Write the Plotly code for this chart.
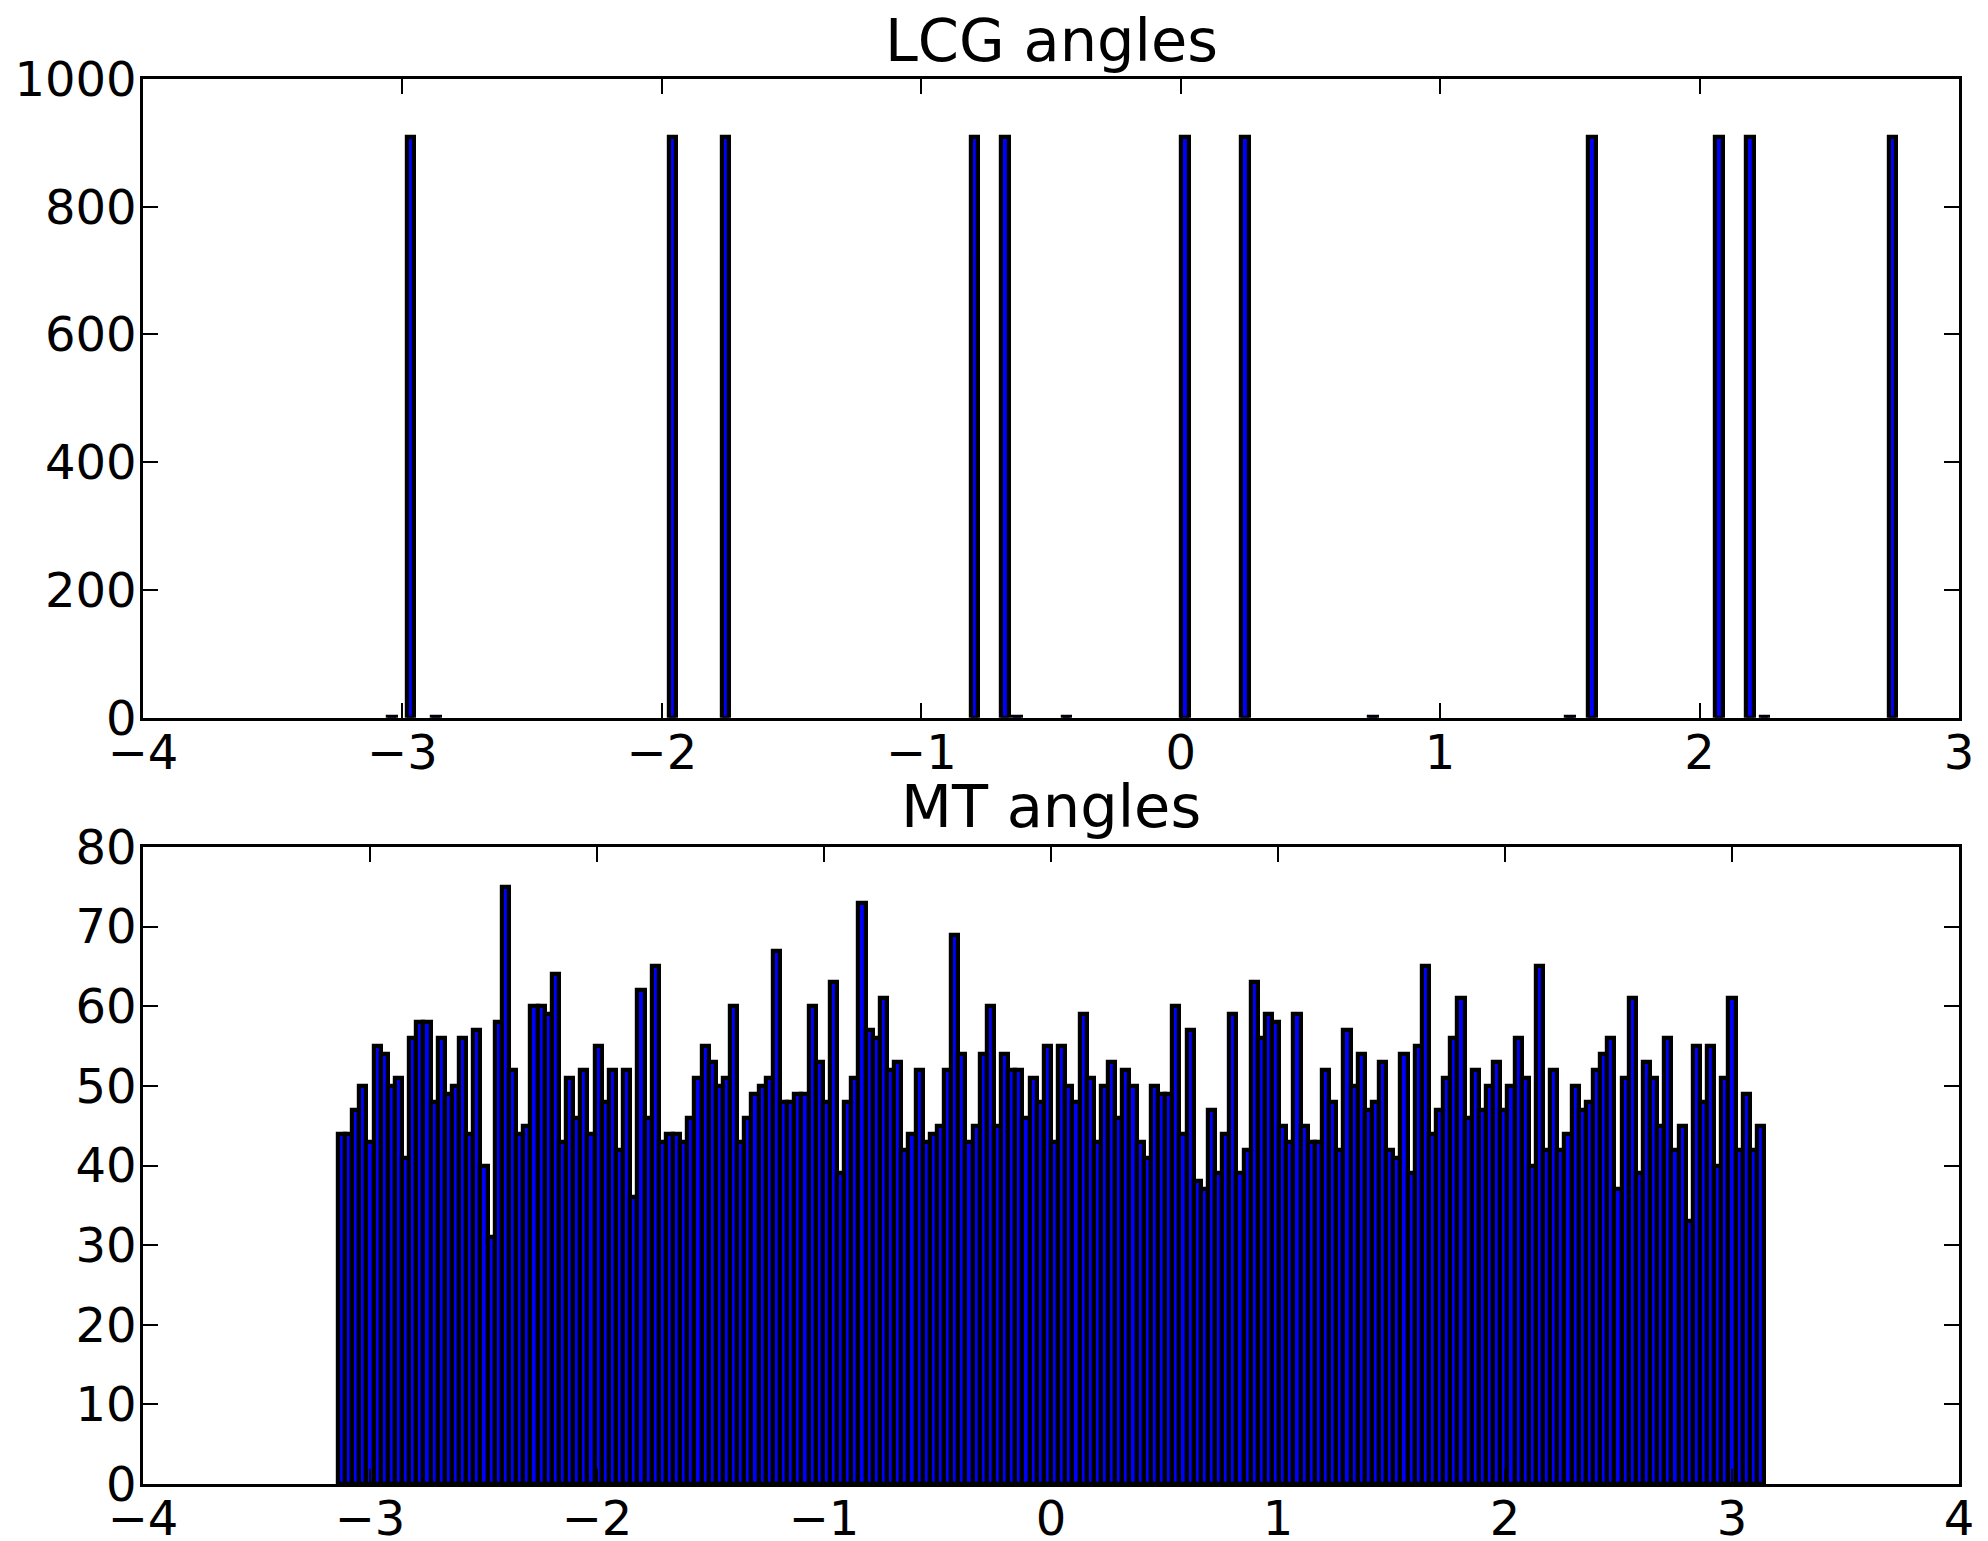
import numpy as np
import plotly.graph_objects as go

# ---------------- data ----------------
# LCG angles: the generator only ever produces a handful of distinct angles
lcg_angles = [-2.969, -1.959, -1.755, -0.795, -0.678, 0.017, 0.247, 1.585, 2.076, 2.193, 2.744]
lcg_counts = [909, 909, 909, 909, 909, 909, 909, 909, 909, 909, 909]
# a few almost-empty bins visible as tiny dashes on the baseline
lcg_tiny_angles = [-3.04, -2.87, -0.63, -0.44, 0.74, 1.50, 2.25]
lcg_tiny_counts = [1, 1, 1, 1, 1, 1, 1]
lcg_bin_width = 0.03

# MT angles: 200 bins from -pi to pi
mt_counts = [
    44, 44, 47, 50, 43, 55, 54, 50, 51, 41, 56, 58, 58, 48, 56, 49, 50, 56, 44, 57,
    40, 31, 58, 75, 52, 44, 45, 60, 60, 59, 64, 43, 51,
    46, 52, 44, 55, 48, 52, 42, 52, 36, 62, 46, 65, 43, 44, 44, 43, 46, 51, 55, 53,
    50, 51, 60, 43, 46, 49, 50, 51, 67, 48, 48, 49, 49, 60,
    53, 48, 63, 39, 48, 51, 73, 57, 56, 61, 52, 53, 42, 44, 52, 43, 44, 45, 52, 69,
    54, 43, 45, 54, 60, 45, 54, 52, 52, 46, 51, 48, 55,
    43, 55, 50, 48, 59, 51, 43, 50, 53, 46, 52, 50, 43, 41, 50, 49, 49, 60, 44, 57,
    38, 37, 47, 39, 44, 59, 39, 42, 63, 56, 59, 58, 45, 43,
    59, 45, 43, 43, 52, 48, 42, 57, 50, 54, 47, 48, 53, 42, 41, 54, 39, 55, 65, 44,
    47, 51, 56, 61, 46, 52, 47, 50, 53, 47, 50, 56, 51,
    40, 65, 42, 52, 42, 44, 50, 47, 48, 52, 54, 56, 37, 51, 61, 39, 53, 51, 45, 56,
    42, 45, 33, 55, 48, 55, 40, 51, 61, 42, 49, 42, 45,
]
mt_range = (-np.pi, np.pi)

top_xticks = [-4, -3, -2, -1, 0, 1, 2, 3]
top_yticks = [0, 200, 400, 600, 800, 1000]
bot_xticks = [-4, -3, -2, -1, 0, 1, 2, 3, 4]
bot_yticks = [0, 10, 20, 30, 40, 50, 60, 70, 80]

titles = ["LCG angles", "MT angles"]

# ---------------- figure ----------------
W, H = 1988, 1541
ML, MR, MT_, MB = 143, 29, 79, 57
FONT = "DejaVu Sans"
TICKSIZE = 48
TITLESIZE = 59

def lab(v):
    return ("\u2212" + str(abs(v))) if v < 0 else str(v)

edges = np.linspace(mt_range[0], mt_range[1], len(mt_counts) + 1)
mt_centers = (edges[:-1] + edges[1:]) / 2
mt_width = edges[1] - edges[0]

fig = go.Figure()
bar_style = dict(marker=dict(color="#0000ff", line=dict(color="black", width=4.2)),
                 showlegend=False, hoverinfo="x+y")
fig.add_trace(go.Bar(x=lcg_angles + lcg_tiny_angles, y=lcg_counts + lcg_tiny_counts,
                     width=lcg_bin_width, xaxis="x", yaxis="y", **bar_style))
fig.add_trace(go.Bar(x=mt_centers, y=mt_counts, width=mt_width,
                     xaxis="x2", yaxis="y2", **bar_style))

plot_h = H - MT_ - MB
top_bottom = (H - MB - 717.7) / plot_h
bot_top = (H - MB - 847) / plot_h

axis_common = dict(showline=True, linecolor="black", linewidth=2.5, mirror="allticks",
                   ticks="inside", ticklen=15, tickwidth=2, tickcolor="black",
                   showgrid=False, zeroline=False, automargin=False,
                   tickfont=dict(family=FONT, size=TICKSIZE, color="black"))
xcommon = dict(axis_common, ticklabelstandoff=-9)
ycommon = dict(axis_common, ticklabelstandoff=-6)

fig.update_layout(
    width=W, height=H,
    margin=dict(l=ML, r=MR, t=MT_, b=MB, autoexpand=False),
    paper_bgcolor="white", plot_bgcolor="white",
    bargap=0,
    xaxis=dict(domain=[0, 1], anchor="y", range=[-4, 3], tickvals=top_xticks,
               ticktext=[lab(v) for v in top_xticks], **xcommon),
    yaxis=dict(domain=[top_bottom, 1], anchor="x", range=[0, 1000], tickvals=top_yticks,
               ticktext=[lab(v) for v in top_yticks], **ycommon),
    xaxis2=dict(domain=[0, 1], anchor="y2", range=[-4, 4], tickvals=bot_xticks,
                ticktext=[lab(v) for v in bot_xticks], **xcommon),
    yaxis2=dict(domain=[0, bot_top], anchor="x2", range=[0, 80], tickvals=bot_yticks,
                ticktext=[lab(v) for v in bot_yticks], **ycommon),
    annotations=[
        dict(text=titles[0], x=0.5, xref="paper", y=(H - MB - 40.6) / plot_h, yref="paper",
             xanchor="center", yanchor="middle", showarrow=False,
             font=dict(family=FONT, size=TITLESIZE, color="black")),
        dict(text=titles[1], x=0.5, xref="paper", y=(H - MB - 806) / plot_h, yref="paper",
             xanchor="center", yanchor="middle", showarrow=False,
             font=dict(family=FONT, size=TITLESIZE, color="black")),
    ],
)

fig.write_html("out.html")
